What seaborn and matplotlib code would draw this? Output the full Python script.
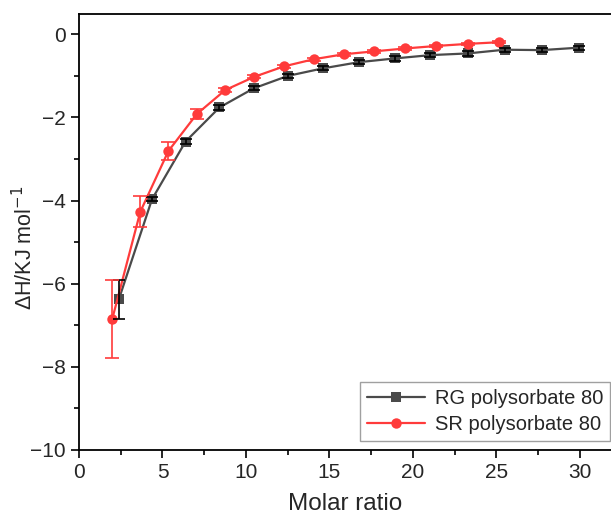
import matplotlib
matplotlib.use("Agg")
import matplotlib.pyplot as plt
import seaborn as sns
import pandas as pd
from matplotlib.ticker import MultipleLocator

# RG polysorbate 80
rg_x = [2.39, 4.37, 6.38, 8.41, 10.46, 12.51, 14.59, 16.76, 18.91, 21.05, 23.27, 25.49, 27.70, 29.97]
rg_y = [-6.37, -3.97, -2.58, -1.76, -1.30, -1.00, -0.82, -0.67, -0.58, -0.50, -0.46, -0.37, -0.38, -0.32]
rg_err = [0.47, 0.05, 0.05, 0.05, 0.05, 0.05, 0.05, 0.05, 0.05, 0.05, 0.05, 0.05, 0.05, 0.05]

# SR polysorbate 80
sr_x = [1.99, 3.67, 5.35, 7.05, 8.76, 10.51, 12.28, 14.05, 15.85, 17.67, 19.54, 21.40, 23.27, 25.14]
sr_y = [-6.85, -4.27, -2.81, -1.92, -1.34, -1.02, -0.77, -0.60, -0.48, -0.41, -0.34, -0.28, -0.23, -0.19]
sr_err = [0.93, 0.37, 0.21, 0.12, 0.05, 0.03, 0.03, 0.03, 0.03, 0.03, 0.03, 0.03, 0.03, 0.03]

rg_color = "#4a4a4a"
sr_color = "#ff3b3b"

df = pd.concat([
    pd.DataFrame({"x": rg_x, "y": rg_y, "err": rg_err, "s": "RG polysorbate 80"}),
    pd.DataFrame({"x": sr_x, "y": sr_y, "err": sr_err, "s": "SR polysorbate 80"}),
])

sns.set_style("ticks")
plt.rcParams["font.family"] = ["Liberation Sans", "DejaVu Sans"]

fig = plt.figure(figsize=(6.11, 5.17), dpi=100)
ax = fig.add_axes([0.1293, 0.1296, 0.8707, 0.8434])

# error bars first so markers sit on top
ax.errorbar(rg_x, rg_y, yerr=rg_err, fmt="none", ecolor="black", elinewidth=1.2,
            capsize=4, capthick=1.2, zorder=3)
ax.errorbar(sr_x, sr_y, yerr=sr_err, fmt="none", ecolor=sr_color, elinewidth=1.2,
            capsize=5, capthick=1.2, zorder=3)

sns.lineplot(data=df, x="x", y="y", hue="s", style="s",
             palette={"RG polysorbate 80": rg_color, "SR polysorbate 80": sr_color},
             markers={"RG polysorbate 80": "s", "SR polysorbate 80": "o"},
             dashes=False, markersize=7.5, markeredgewidth=0, linewidth=1.6,
             sort=False, estimator=None, ax=ax, zorder=2)

ax.set_xlim(0, 31.86)
ax.set_ylim(-10, 0.49)
ax.xaxis.set_major_locator(MultipleLocator(5))
ax.xaxis.set_minor_locator(MultipleLocator(2.5))
ax.yaxis.set_major_locator(MultipleLocator(2))
ax.yaxis.set_minor_locator(MultipleLocator(1))
ax.tick_params(which="major", direction="out", length=6, width=1.2, labelsize=15, color="black")
ax.tick_params(which="minor", direction="out", length=3.5, width=1.2, color="black")
ax.set_yticks([0, -2, -4, -6, -8, -10])
ax.set_yticklabels(["0", "\u22122", "\u22124", "\u22126", "\u22128", "\u221210"])

for side in ["left", "bottom", "top"]:
    ax.spines[side].set_visible(True)
    ax.spines[side].set_linewidth(1.3)
    ax.spines[side].set_color("black")
ax.spines["right"].set_visible(False)

ax.set_xlabel("Molar ratio", fontsize=17.5, labelpad=8)
ax.set_ylabel("\u0394H/KJ mol$^{\u22121}$", fontsize=15.5)
ax.yaxis.set_label_coords(-0.078, 0.463)

leg = ax.legend(loc="lower right", bbox_to_anchor=(0.999, 0.0206), borderaxespad=0,
                fontsize=14.5, frameon=True, fancybox=False, edgecolor="#888888",
                handlelength=2.9, borderpad=0.35, labelspacing=0.35, handletextpad=0.5)
leg.get_frame().set_linewidth(1.0)

fig.savefig("out.png", dpi=100)
